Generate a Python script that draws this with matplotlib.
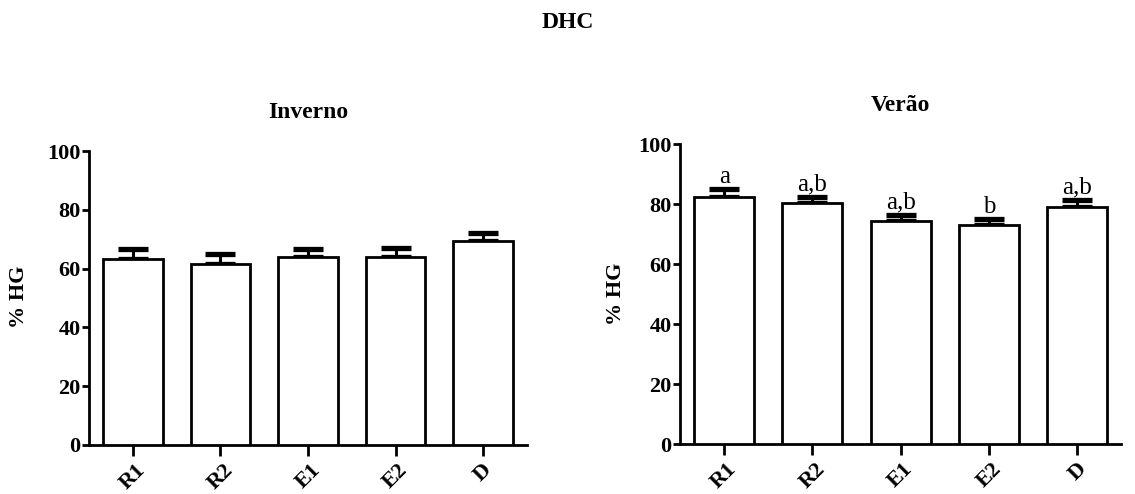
import numpy as np
import matplotlib as mpl
import matplotlib.pyplot as plt

mpl.rcParams['font.family'] = 'Liberation Serif'
mpl.rcParams['font.weight'] = 'bold'

groups = ['R1', 'R2', 'E1', 'E2', 'D']

# Inverno
inv_mean = [63.2, 61.6, 64.1, 64.1, 69.5]
inv_sem = [3.4, 3.3, 2.6, 2.8, 2.5]

# Verao
ver_mean = [82.3, 80.3, 74.4, 73.1, 78.9]
ver_sem = [2.6, 2.0, 1.8, 1.8, 2.4]
ver_letters = ['a', 'a,b', 'a,b', 'b', 'a,b']


def bar_panel(ax, means, sems, title, letters=None):
    x = np.arange(len(groups))
    yerr = [np.zeros(len(sems)), sems]
    ax.bar(x, means, width=0.68, color='white', edgecolor='black',
           linewidth=2, zorder=3)
    ax.errorbar(x, means, yerr=yerr, fmt='none', ecolor='black',
                elinewidth=2.2, capsize=11, capthick=3.8, zorder=2)
    if letters is not None:
        for xi, m, s, lab in zip(x, means, sems, letters):
            ax.text(xi, m + s + 0.6, lab, ha='center', va='bottom',
                    fontsize=18, fontweight='normal')
    ax.set_xlim(-0.5, 4.5)
    ax.set_ylim(0, 100)
    ax.set_yticks([0, 20, 40, 60, 80, 100])
    ax.set_xticks(x)
    ax.set_xticklabels(groups, rotation=45, ha='center', fontsize=16,
                       fontweight='bold')
    for lab in ax.get_yticklabels():
        lab.set_fontsize(16)
        lab.set_fontweight('bold')
    ax.spines['top'].set_visible(False)
    ax.spines['right'].set_visible(False)
    ax.spines['left'].set_linewidth(2)
    ax.spines['bottom'].set_linewidth(2)
    ax.tick_params(axis='y', length=5, width=2, pad=1)
    ax.tick_params(axis='x', length=8, width=2, pad=3)
    ax.set_title(title, fontsize=17, fontweight='bold', pad=24)


fig = plt.figure(figsize=(11.35, 4.94), dpi=100)
ax1 = fig.add_axes([0.0784, 0.0992, 0.3859, 0.5951])
ax2 = fig.add_axes([0.5991, 0.1012, 0.3890, 0.6073])

bar_panel(ax1, inv_mean, inv_sem, 'Inverno')
bar_panel(ax2, ver_mean, ver_sem, 'Verão', ver_letters)
ax2.set_ylabel('% HG', fontsize=16, fontweight='bold', labelpad=9)
fig.text(0.017, 0.40, '% HG', rotation=90, ha='center', va='center',
         fontsize=16, fontweight='bold')

fig.suptitle('DHC', x=0.5, y=0.975, fontsize=17, fontweight='bold')

plt.savefig('out.png', dpi=100)
